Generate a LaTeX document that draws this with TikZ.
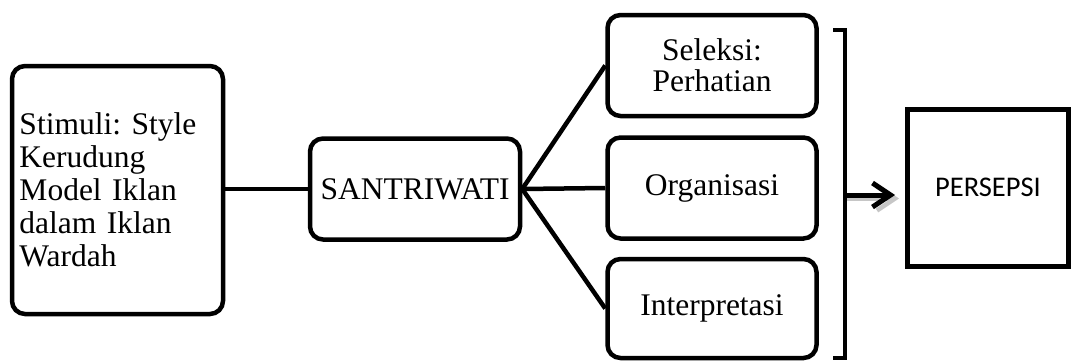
\documentclass[tikz,border=0pt]{standalone}
\usepackage{fontspec}
\setmainfont{Liberation Serif}
\newfontfamily\calibrifont{Carlito}
\usetikzlibrary{arrows.meta}
\begin{document}
\begin{tikzpicture}[x=1pt,y=-1pt,
  rbox/.style={draw=black,line width=4.5pt,rounded corners=13pt,inner sep=0pt,
    font=\frenchspacing\fontsize{31.5}{31}\selectfont,align=center},
  link/.style={draw=black,line width=4.5pt},
  tip/.style={-{Straight Barb[length=18pt,width=24pt]}},
  sqbox/.style={draw=black,line width=5pt,inner sep=0pt,font=\calibrifont\fontsize{28.5}{32}\selectfont}]
\useasboundingbox (0,0) rectangle (1074,362);
\node[rbox,minimum width=211pt,minimum height=248pt,text width=196pt,align=left,
  font=\frenchspacing\fontsize{31.5}{33}\selectfont] (stim) at (117.5,190)
  {Stimuli: Style\\Kerudung\\Model Iklan\\dalam Iklan\\Wardah};
\node[rbox,minimum width=210pt,minimum height=101pt] (sant) at (415,189) {SANTRIWATI};
\node[rbox,minimum width=209pt,minimum height=101pt] (sel) at (712,65.5) {Seleksi:\\Perhatian};
\node[rbox,minimum width=209pt,minimum height=101pt] (org) at (712,188) {Organisasi};
\node[rbox,minimum width=209pt,minimum height=99pt] (int) at (712,308.5) {Interpretasi};
\node[sqbox,minimum width=161pt,minimum height=157pt] (per) at (988,187.5) {PERSEPSI};
\draw[link] (stim.east |- sant.west) -- (sant.west);
\draw[link] (sant.east) -- (sel.west);
\draw[link] (sant.east) -- (org.west);
\draw[link] (sant.east) -- (int.west);
\coordinate (bt) at (845,30);
\coordinate (bb) at (845,358);
\coordinate (bm) at (845,195);
\coordinate (am) at (per.west |- bm);
\draw[line width=4pt] ([xshift=-12pt]bt) -- (bt) -- (bb) -- ([xshift=-12pt]bb);
\draw[gray!45,line width=4.5pt,tip,shorten >=8pt]
  ([shift={(2,3.5)}]bm) -- ([shift={(2,3.5)}]am);
\draw[black,line width=5pt,tip,shorten >=10pt] (bm) -- (am);
\draw[black,line width=5pt] (bm) -- ([xshift=-20pt]am);
\end{tikzpicture}
\end{document}
